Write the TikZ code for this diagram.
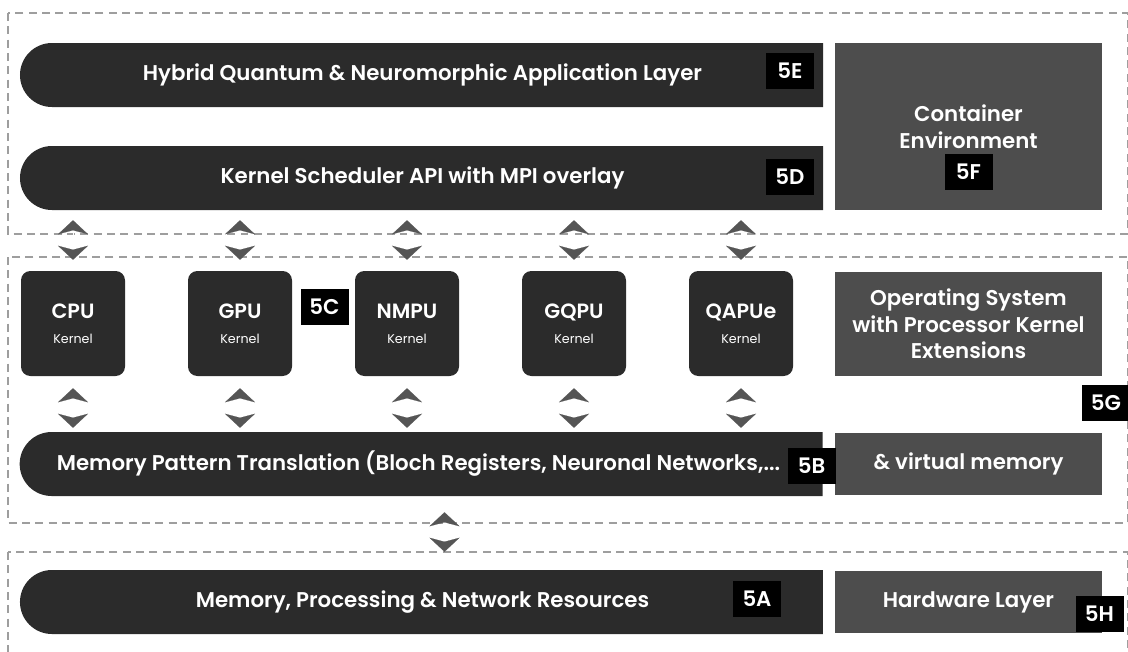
\documentclass[tikz,border=0pt]{standalone}
\usepackage{fontspec}
\setmainfont{Poppins}
\newfontfamily\medfont{Poppins SemiBold}
\usetikzlibrary{positioning,shapes.misc,arrows.meta}
\definecolor{pillgrey}{HTML}{2B2B2B}
\definecolor{boxgrey}{HTML}{4D4D4D}
\definecolor{arrowgrey}{HTML}{555555}
\definecolor{dashgrey}{HTML}{9E9E9E}

\begin{document}
\begin{tikzpicture}[x=0.75pt,y=-0.75pt]
\tikzstyle{pill}=[rounded rectangle, rounded rectangle right arc=none,
fill=pillgrey, text=white, inner sep=0pt,
minimum width=602.25pt, minimum height=48pt,
font=\medfont\fontsize{16}{18}\selectfont]
\tikzstyle{side}=[rectangle, fill=boxgrey, text=white, inner sep=0pt,
minimum width=200.25pt, align=center,
font=\medfont\fontsize{16}{20}\selectfont]
\tikzstyle{kern}=[rectangle, rounded corners=7pt, fill=pillgrey, text=white,
minimum width=78pt, minimum height=78.75pt, align=center,
node distance=125.25pt, font=\medfont\fontsize{15.5}{19}\selectfont]
\tikzstyle{tag}=[rectangle, fill=black, text=white, inner sep=0pt,
minimum width=36pt, minimum height=27pt,
font=\medfont\fontsize{16}{18}\selectfont]
\tikzstyle{layer}=[draw=dashgrey, line width=1.1pt, dash pattern=on 6pt off 4pt]
\tikzstyle{updown}=[draw=white, line width=0.1pt,
{Stealth[length=10.5pt,width=22.5pt,inset=3pt,color=arrowgrey]}-{Stealth[length=10.5pt,width=22.5pt,inset=3pt,color=arrowgrey]}]

\useasboundingbox (0,0) rectangle (1128,651);

\draw[layer] (8,13) rectangle (1128,234);
\draw[layer] (8,257) rectangle (1128,523);
\draw[layer] (8,552) rectangle (1128,660);

\node[pill] at (422.5,75) (app) {Hybrid Quantum \& Neuromorphic Application Layer};
\node[pill] at (422.5,178) (api) {Kernel Scheduler API with MPI overlay};
\node[pill] at (422.5,464) (mpt) {\hspace*{-6pt}Memory Pattern Translation (Bloch Registers, Neuronal Networks,...};
\node[pill] at (422.5,602) (res) {Memory, Processing \& Network Resources};

\node[side, minimum height=125.25pt] at (968.5,126.5) (cont) {Container\\Environment};
\node[side, minimum height=78pt] at (968.5,324) (os) {Operating System\\with Processor Kernel\\Extensions};
\node[side, minimum height=46.5pt] at (968.5,464) (vmem) {\& virtual memory};
\node[side, minimum height=46.5pt] at (968.5,602) (hw) {Hardware Layer};

\node[kern] at (73,323.5) (cpu) {CPU\\{\rmfamily\fontsize{9.5}{10}\selectfont Kernel}};
\node[kern, right of=cpu] (gpu) {GPU\\{\rmfamily\fontsize{9.5}{10}\selectfont Kernel}};
\node[kern, right of=gpu] (nmpu) {NMPU\\{\rmfamily\fontsize{9.5}{10}\selectfont Kernel}};
\node[kern, right of=nmpu] (gqpu) {GQPU\\{\rmfamily\fontsize{9.5}{10}\selectfont Kernel}};
\node[kern, right of=gqpu] (qapu) {QAPUe\\{\rmfamily\fontsize{9.5}{10}\selectfont Kernel}};

\node[tag] at (790,71) (t5E) {5E};
\node[tag] at (790,176.5) (t5D) {5D};
\node[tag] at (968.5,172) (t5F) {5F};
\node[tag] at (324.5,306.5) (t5C) {5C};
\node[tag] at (1106,402.5) (t5G) {5G};
\node[tag] at (811.5,465.5) (t5B) {5B};
\node[tag] at (757,599) (t5A) {5A};
\node[tag] at (1099.5,614) (t5H) {5H};

\draw[updown, shorten <=7.5pt, shorten >=8.25pt] (cpu.north |- api.south) -- (cpu.north);
\draw[updown, shorten <=7.5pt, shorten >=8.25pt] (gpu.north |- api.south) -- (gpu.north);
\draw[updown, shorten <=7.5pt, shorten >=8.25pt] (nmpu.north |- api.south) -- (nmpu.north);
\draw[updown, shorten <=7.5pt, shorten >=8.25pt] (gqpu.north |- api.south) -- (gqpu.north);
\draw[updown, shorten <=7.5pt, shorten >=8.25pt] (qapu.north |- api.south) -- (qapu.north);
\draw[updown, shorten <=9pt, shorten >=3pt] (cpu.south) -- (cpu.south |- mpt.north);
\draw[updown, shorten <=9pt, shorten >=3pt] (gpu.south) -- (gpu.south |- mpt.north);
\draw[updown, shorten <=9pt, shorten >=3pt] (nmpu.south) -- (nmpu.south |- mpt.north);
\draw[updown, shorten <=9pt, shorten >=3pt] (gqpu.south) -- (gqpu.south |- mpt.north);
\draw[updown, shorten <=9pt, shorten >=3pt] (qapu.south) -- (qapu.south |- mpt.north);
\draw[updown, shorten <=12pt, shorten >=13.5pt] ([xshift=16.5pt]mpt.south) -- ([xshift=16.5pt]res.north);

\end{tikzpicture}
\end{document}
